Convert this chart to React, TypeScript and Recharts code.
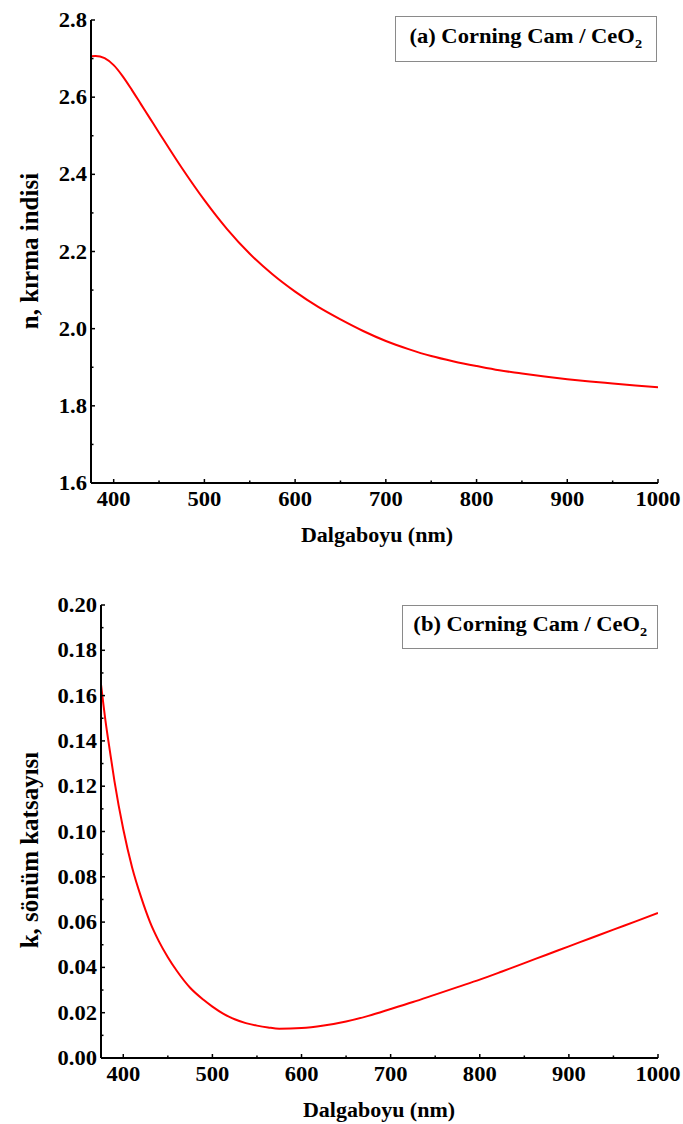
import React from "react";
import { LineChart, Line, XAxis, YAxis } from "recharts";

// wavelength grid (nm) and values
const wlN = [375, 380, 390, 400, 410, 420, 430, 440, 450, 475, 500, 525, 550, 575, 600, 625, 650, 675, 700, 725, 750, 775, 800, 825, 850, 875, 900, 925, 950, 975, 1000];
const nValues = [2.706, 2.707, 2.701, 2.683, 2.654, 2.619, 2.582, 2.545, 2.508, 2.417, 2.333, 2.258, 2.194, 2.141, 2.096, 2.057, 2.024, 1.994, 1.968, 1.947, 1.929, 1.915, 1.903, 1.892, 1.884, 1.876, 1.869, 1.863, 1.858, 1.853, 1.848];

const wlK = [375, 380, 385, 390, 400, 410, 420, 430, 440, 450, 460, 475, 490, 500, 512.5, 525, 537.5, 550, 562.5, 575, 600, 625, 650, 675, 700, 725, 750, 775, 800, 825, 850, 875, 900, 925, 950, 975, 1000];
const kValues = [0.165, 0.149, 0.1355, 0.1225, 0.101, 0.084, 0.071, 0.06, 0.0515, 0.0445, 0.0385, 0.031, 0.0257, 0.0227, 0.0195, 0.0171, 0.0154, 0.0143, 0.0135, 0.01295, 0.0132, 0.0143, 0.0161, 0.0186, 0.0216, 0.0247, 0.028, 0.0313, 0.0346, 0.0382, 0.0419, 0.0456, 0.0493, 0.053, 0.0567, 0.0603, 0.064];

const xTicks = [400, 450, 500, 550, 600, 650, 700, 750, 800, 850, 900, 950, 1000];
const xTopTicks = [437.5, 500, 562.5, 625, 687.5, 750, 812.5, 875, 937.5];
const nTicks = [1.6, 1.7, 1.8, 1.9, 2.0, 2.1, 2.2, 2.3, 2.4, 2.5, 2.6, 2.7, 2.8];
const nRightTicks = [1.72, 1.84, 1.96, 2.08, 2.2, 2.32, 2.44, 2.56, 2.68];
const kTicks = [0, 0.01, 0.02, 0.03, 0.04, 0.05, 0.06, 0.07, 0.08, 0.09, 0.1, 0.11, 0.12, 0.13, 0.14, 0.15, 0.16, 0.17, 0.18, 0.19, 0.2];
const kRightTicks = [0.02, 0.04, 0.06, 0.08, 0.1, 0.12, 0.14, 0.16, 0.18];

const nData = wlN.map((x, i) => ({ x, v: nValues[i] }));
const kData = wlK.map((x, i) => ({ x, v: kValues[i] }));

const FONT = "'Liberation Serif', 'Times New Roman', serif";
const SX = 1.1;

const isMajor = (v: number, step: number) => Math.abs(v / step - Math.round(v / step)) < 1e-6;

function BottomTick(props: any) {
  const { x, y, payload } = props;
  const major = isMajor(payload.value, 100);
  return (
    <g>
      <line x1={x} x2={x} y1={y} y2={y - (major ? 4 : 2.5)} stroke="#000" strokeWidth={1.5} />
      {major && (
        <text transform={`translate(${x},${y + 23}) scale(${SX},1)`} textAnchor="middle" fontFamily={FONT} fontWeight="bold" fontSize={20.5} fill="#000">
          {payload.value}
        </text>
      )}
    </g>
  );
}

function TopTick(props: any) {
  const { x, y } = props;
  return <line x1={x} x2={x} y1={y} y2={y + 2.5} stroke="#000" strokeWidth={1.5} />;
}

function RightTick(props: any) {
  const { x, y } = props;
  return <line x1={x} x2={x - 2.5} y1={y} y2={y} stroke="#000" strokeWidth={1.5} />;
}

function makeLeftTick(step: number, digits: number) {
  return function LeftTick(props: any) {
    const { x, y, payload } = props;
    const major = isMajor(payload.value, step);
    return (
      <g>
        <line x1={x} x2={x + (major ? 4 : 2.5)} y1={y} y2={y} stroke="#000" strokeWidth={1.5} />
        {major && (
          <text transform={`translate(${x - 4},${y + 7}) scale(${SX},1)`} textAnchor="end" fontFamily={FONT} fontWeight="bold" fontSize={20.5} fill="#000">
            {payload.value.toFixed(digits)}
          </text>
        )}
      </g>
    );
  };
}

const NLeftTick = makeLeftTick(0.2, 1);
const KLeftTick = makeLeftTick(0.02, 2);

const axisLine = { stroke: "#000", strokeWidth: 2 };

function Panel(props: {
  data: { x: number; v: number }[];
  height: number;
  margin: { top: number; right: number; bottom: number; left: number };
  yDomain: [number, number];
  yTicks: number[];
  yRightTicks: number[];
  leftTick: any;
}) {
  const { data, height, margin, yDomain, yTicks, yRightTicks, leftTick } = props;
  return (
    <LineChart width={683} height={height} data={data} margin={margin}>
      <XAxis
        xAxisId="b"
        dataKey="x"
        type="number"
        domain={[375, 1000]}
        ticks={xTicks}
        interval={0}
        allowDataOverflow
        height={30}
        tickSize={0}
        tickMargin={0}
        tickLine={false}
        axisLine={axisLine}
        tick={<BottomTick />}
      />
      <XAxis
        xAxisId="t"
        orientation="top"
        type="number"
        domain={[375, 1000]}
        ticks={xTopTicks}
        interval={0}
        allowDataOverflow
        height={0}
        tickSize={0}
        tickMargin={0}
        tickLine={false}
        axisLine={axisLine}
        tick={<TopTick />}
      />
      <YAxis
        yAxisId="l"
        type="number"
        domain={yDomain}
        ticks={yTicks}
        interval={0}
        allowDataOverflow
        width={60}
        tickSize={0}
        tickMargin={0}
        tickLine={false}
        axisLine={axisLine}
        tick={leftTick}
      />
      <YAxis
        yAxisId="r"
        orientation="right"
        type="number"
        domain={yDomain}
        ticks={yRightTicks}
        interval={0}
        allowDataOverflow
        width={0}
        tickSize={0}
        tickMargin={0}
        tickLine={false}
        axisLine={axisLine}
        tick={<RightTick />}
      />
      <Line
        xAxisId="b"
        yAxisId="l"
        type="monotone"
        dataKey="v"
        stroke="#ff0000"
        strokeWidth={2}
        dot={false}
        isAnimationActive={false}
      />
    </LineChart>
  );
}

const textStyle: React.CSSProperties = {
  position: "absolute",
  fontFamily: FONT,
  fontWeight: "bold",
  color: "#000",
  whiteSpace: "nowrap",
};

function LegendBox({ left, top, width, height, label }: { left: number; top: number; width: number; height: number; label: string }) {
  return (
    <div
      style={{
        position: "absolute",
        left,
        top,
        width,
        height,
        border: "1px solid #8a8a8a",
        boxSizing: "border-box",
        background: "#fff",
        display: "flex",
        alignItems: "center",
        justifyContent: "center",
      }}
    >
      <span style={{ fontFamily: FONT, fontWeight: "bold", fontSize: 20.5, transform: `scaleX(${SX})`, display: "inline-block", whiteSpace: "nowrap" }}>
        {label} / CeO<sub style={{ fontSize: 13 }}>2</sub>
      </span>
    </div>
  );
}

export default function App() {
  return (
    <div style={{ position: "absolute", left: 0, top: 0, width: 683, height: 1124, background: "#fff" }}>
      <div style={{ position: "absolute", left: 0, top: 0 }}>
        <Panel
          data={nData}
          height={560}
          margin={{ top: 20, right: 25, bottom: 47, left: 31 }}
          yDomain={[1.6, 2.8]}
          yTicks={nTicks}
          yRightTicks={nRightTicks}
          leftTick={<NLeftTick />}
        />
      </div>
      <div style={{ position: "absolute", left: 0, top: 560 }}>
        <Panel
          data={kData}
          height={564}
          margin={{ top: 45, right: 25, bottom: 36, left: 41 }}
          yDomain={[0, 0.2]}
          yTicks={kTicks}
          yRightTicks={kRightTicks}
          leftTick={<KLeftTick />}
        />
      </div>

      <LegendBox left={395} top={16} width={262} height={46} label="(a) Corning Cam" />
      <LegendBox left={402} top={605} width={256} height={44} label="(b) Corning Cam" />

      <div style={{ ...textStyle, fontSize: 20, left: 377, top: 535, transform: `translate(-50%,-50%) scaleX(${SX})` }}>
        Dalgaboyu (nm)
      </div>
      <div style={{ ...textStyle, fontSize: 20, left: 379, top: 1110, transform: `translate(-50%,-50%) scaleX(${SX})` }}>
        Dalgaboyu (nm)
      </div>
      <div style={{ ...textStyle, fontSize: 25, left: 30, top: 251, transform: "translate(-50%,-50%) rotate(-90deg)" }}>
        n, kırma indisi
      </div>
      <div style={{ ...textStyle, fontSize: 25, left: 30, top: 850, transform: "translate(-50%,-50%) rotate(-90deg)" }}>
        k, sönüm katsayısı
      </div>
    </div>
  );
}
